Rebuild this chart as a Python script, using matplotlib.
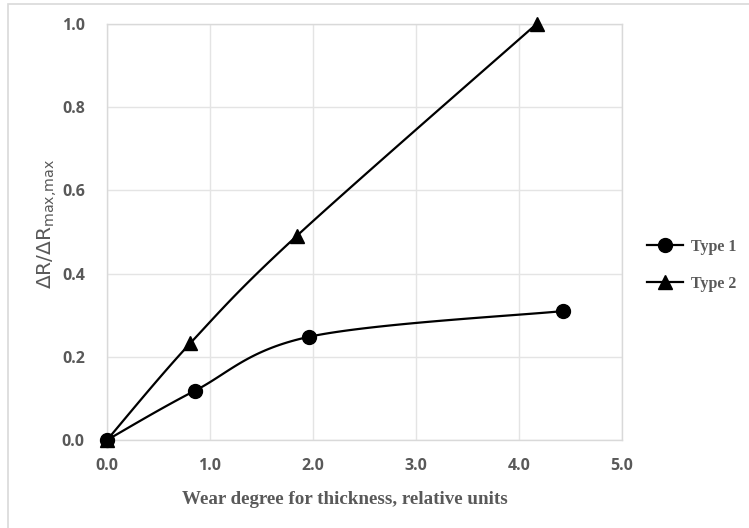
import numpy as np
import matplotlib
matplotlib.use('Agg')
import matplotlib.pyplot as plt
from matplotlib.patches import Rectangle

# data
type1_x = [0.0, 0.85, 1.96, 4.43]
type1_y = [0.0, 0.118, 0.248, 0.31]
type2_x = [0.0, 0.81, 1.84, 4.17]
type2_y = [0.0, 0.233, 0.49, 1.0]
xticks = [0.0, 1.0, 2.0, 3.0, 4.0, 5.0]
yticks = [0.0, 0.2, 0.4, 0.6, 0.8, 1.0]

gray = '#595959'
gridc = '#e4e4e4'


def smooth(xs, ys, n=40):
    # excel-like smoothed line (catmull-rom through the points)
    p = np.column_stack([xs, ys])
    p = np.vstack([p[0], p, p[-1]])
    out = []
    for i in range(1, len(p) - 2):
        p0, p1, p2, p3 = p[i - 1], p[i], p[i + 1], p[i + 2]
        t = np.linspace(0, 1, n)[:, None]
        seg = 0.5 * ((2 * p1) + (-p0 + p2) * t +
                     (2 * p0 - 5 * p1 + 4 * p2 - p3) * t ** 2 +
                     (-p0 + 3 * p1 - 3 * p2 + p3) * t ** 3)
        out.append(seg)
    out = np.vstack(out)
    return out[:, 0], out[:, 1]


fig = plt.figure(figsize=(7.49, 5.28), dpi=100)
fig.patches.append(Rectangle((8 / 749, -0.1), 1.2, (528 - 4) / 528 + 0.1,
                             transform=fig.transFigure, fill=False,
                             edgecolor='#d9d9d9', linewidth=1.2))
ax = fig.add_axes([107 / 749, 88 / 528, 515 / 749, 416 / 528])

sx, sy = smooth(type1_x, type1_y)
ax.plot(sx, sy, color='black', lw=1.6, clip_on=False, zorder=3)
ax.plot(type1_x, type1_y, 'o', color='black', ms=10, clip_on=False, zorder=4)
sx, sy = smooth(type2_x, type2_y)
ax.plot(sx, sy, color='black', lw=1.6, clip_on=False, zorder=3)
ax.plot(type2_x, type2_y, '^', color='black', ms=10, clip_on=False, zorder=4)

# legend handles
ax.plot([], [], '-o', color='black', lw=1.6, ms=10, label='Type 1')
ax.plot([], [], '-^', color='black', lw=1.6, ms=10, label='Type 2')
h, l = ax.get_legend_handles_labels()
leg = ax.legend(h[-2:], l[-2:], loc='center left', bbox_to_anchor=(1.02, 0.42),
                frameon=False, handlelength=2.3, handletextpad=0.5, labelspacing=1.3,
                prop={'family': 'Liberation Serif', 'weight': 'bold', 'size': 11.5})
for t in leg.get_texts():
    t.set_color(gray)

ax.set_xlim(0, 5)
ax.set_ylim(0, 1)
ax.set_xticks(xticks)
ax.set_yticks(yticks)
ax.set_xticklabels([f'{v:.1f}' for v in xticks])
ax.set_yticklabels([f'{v:.1f}' for v in yticks])
for t in ax.get_xticklabels() + ax.get_yticklabels():
    t.set_fontfamily('Open Sans')
    t.set_fontweight('bold')
    t.set_fontsize(11.5)
    t.set_color(gray)
ax.tick_params(length=0, pad=13)
ax.tick_params(axis='y', pad=16)
ax.grid(True, color=gridc, lw=1)
ax.set_axisbelow(True)
for s in ax.spines.values():
    s.set_color('#d9d9d9')
    s.set_linewidth(1)

ax.set_xlabel('Wear degree for thickness, relative units', family='Liberation Serif',
              weight='bold', size=13.7, color=gray)
ax.xaxis.set_label_coords(0.462, -0.122)
fig.text(47 / 749, 1 - 224 / 528, r'$\Delta$R/$\Delta$R$_{\mathrm{max{,}max}}$',
         rotation=90, ha='center', va='center', size=14.5, color=gray)

fig.savefig('out.png', dpi=100)
